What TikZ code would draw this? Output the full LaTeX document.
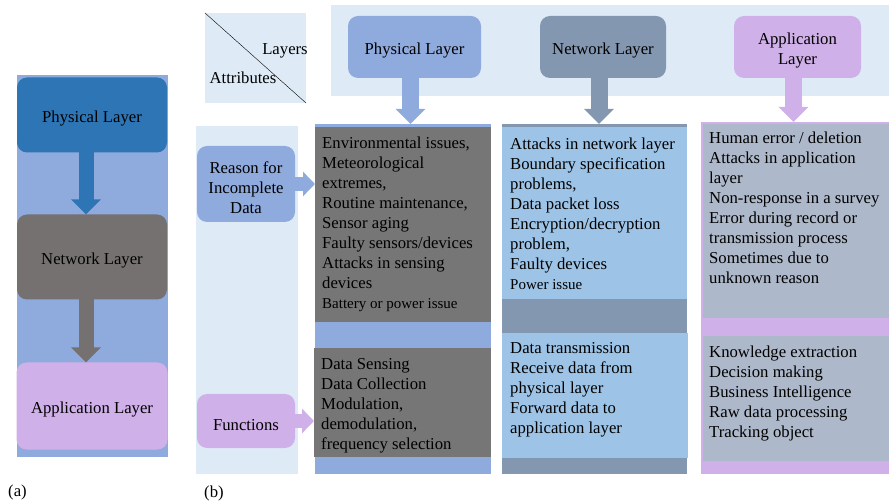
\documentclass[tikz,border=0pt]{standalone}
\usepackage{fontspec}
\setmainfont{Liberation Serif}
\usetikzlibrary{arrows.meta}

\definecolor{darkblue}{HTML}{2E75B6}
\definecolor{warmgray}{HTML}{767171}
\definecolor{lilac}{HTML}{D0B0E8}
\definecolor{lightbg}{HTML}{DEEBF7}
\definecolor{midblue}{HTML}{8FAADC}
\definecolor{slate}{HTML}{8497B0}
\definecolor{skyblue}{HTML}{9DC3E6}
\definecolor{grayblue}{HTML}{ADB9CA}
\definecolor{phygray}{HTML}{767676}

\newcommand\lyrfont{\fontsize{16.7}{20}\selectfont}
\newcommand\smallfont{\fontsize{15}{20}\selectfont}

\begin{document}
\begin{tikzpicture}[x=1pt, y=-1pt,
    box/.style={rounded corners=10pt, inner sep=0pt, outer sep=0pt},
    boxtext/.style={label={[font=\lyrfont, align=center, yshift=-4pt]center:#1}},
    panel/.style={inner sep=0pt, outer sep=0pt, anchor=north west},
    txt/.style={inner sep=0pt, anchor=north west, align=left, font=\lyrfont},
    downarrow/.style={line width=17pt, -{Triangle[width=29pt,length=15pt]}},
    sidearrow/.style={line width=14pt, -{Triangle[width=24pt,length=12pt]}}]
  \useasboundingbox (0,0) rectangle (889,502);

  % (a)
  \fill[midblue] (17,75) rectangle (168,457);
  \node[box, fill=darkblue, minimum width=150pt, minimum height=75pt, boxtext={Physical Layer}] (aphy) at (92,115) {};
  \node[box, fill=warmgray, minimum width=150pt, minimum height=85pt, boxtext={Network Layer}] (anet) at (92,257) {};
  \node[box, fill=lilac, minimum width=151pt, minimum height=87pt, boxtext={Application Layer}] (aapp) at (92,406) {};
  \draw[downarrow, line width=15pt, darkblue] ([xshift=-6pt]aphy.south) -- ([xshift=-6pt]anet.north);
  \draw[downarrow, line width=15pt, warmgray] ([xshift=-6pt]anet.south) -- ([xshift=-6pt]aapp.north);
  \node[anchor=west, inner sep=0pt, font=\lyrfont] (lbla) at (8,492) {(a)};

  % (b) header row
  \node[panel, fill=lightbg, minimum width=101pt, minimum height=90pt] (corner) at (205,13) {};
  \draw (corner.north west) -- (corner.south east);
  \node[font=\lyrfont, inner sep=0pt] (lyrs) at (285,51) {Layers};
  \node[font=\lyrfont, inner sep=0pt] (attr) at (243,78) {Attributes};
  \fill[lightbg] (331,5) rectangle (889,96);
  \node[box, fill=midblue, minimum width=133pt, minimum height=62pt, boxtext={Physical Layer}] (phyhead) at (414.5,47) {};
  \node[box, fill=slate, minimum width=126pt, minimum height=62pt, boxtext={Network Layer}] (nethead) at (603,47) {};
  \node[box, fill=lilac, minimum width=127pt, minimum height=62pt, boxtext={Application\\Layer}] (apphead) at (797.5,47) {};

  % (b) attribute column
  \fill[lightbg] (196,126) rectangle (298,474);
  \node[box, fill=midblue, minimum width=98pt, minimum height=76pt, boxtext={Reason for\\Incomplete\\Data}] (reason) at (246,184) {};
  \node[box, fill=lilac, minimum width=98pt, minimum height=54pt, boxtext={Functions}] (funcs) at (246,421) {};

  % (b) layer columns
  \node[panel, fill=midblue, minimum width=176pt, minimum height=350pt] (phycol) at (315,124) {};
  \fill[phygray] (315,127) rectangle (491,322);
  \fill[phygray] (314,348) rectangle (491,457);
  \node[panel, fill=slate, minimum width=185pt, minimum height=350pt] (netcol) at (502,124) {};
  \fill[skyblue] (502,127) rectangle (687,299);
  \fill[skyblue] (502,333) rectangle (688,458);
  \node[panel, fill=lilac, minimum width=188pt, minimum height=352pt] (appcol) at (701,122) {};
  \fill[grayblue] (703,124) rectangle (889,318);
  \fill[grayblue] (703,336) rectangle (889,461);

  \draw[downarrow, midblue] ([xshift=-4pt]phyhead.south) -- ([xshift=-4pt]phyhead.south |- phycol.north);
  \draw[downarrow, slate] ([xshift=-4pt]nethead.south) -- ([xshift=-4pt]nethead.south |- netcol.north);
  \draw[downarrow, lilac] ([xshift=-4pt]apphead.south) -- ([xshift=-4pt]apphead.south |- appcol.north);
  \draw[sidearrow, midblue] (reason.east) -- (reason.east -| phycol.west);
  \draw[sidearrow, lilac] (funcs.east) -- ([xshift=-1pt]funcs.east -| phycol.west);

  \node[txt] (phyreason) at (322,137) {Environmental issues,\\Meteorological\\extremes,\\Routine maintenance,\\Sensor aging\\Faulty sensors/devices\\Attacks in sensing\\devices\\{\smallfont Battery or power issue}};
  \node[txt] (netreason) at (510,138) {Attacks in network layer\\Boundary specification\\problems,\\Data packet loss\\Encryption/decryption\\problem,\\Faulty devices\\{\smallfont Power issue}};
  \node[txt] (appreason) at (709,132) {Human error / deletion\\Attacks in application\\layer\\Non-response in a survey\\Error during record or\\transmission process\\Sometimes due to\\unknown reason};
  \node[txt] (phyfuncs) at (321,358) {Data Sensing\\Data Collection\\Modulation,\\demodulation,\\frequency selection};
  \node[txt] (netfuncs) at (510,342) {Data transmission\\Receive data from\\physical layer\\Forward data to\\application layer};
  \node[txt] (appfuncs) at (709,346) {Knowledge extraction\\Decision making\\Business Intelligence\\Raw data processing\\Tracking object};
  \node[anchor=west, inner sep=0pt, font=\lyrfont] (lblb) at (204,493) {(b)};
\end{tikzpicture}
\end{document}
